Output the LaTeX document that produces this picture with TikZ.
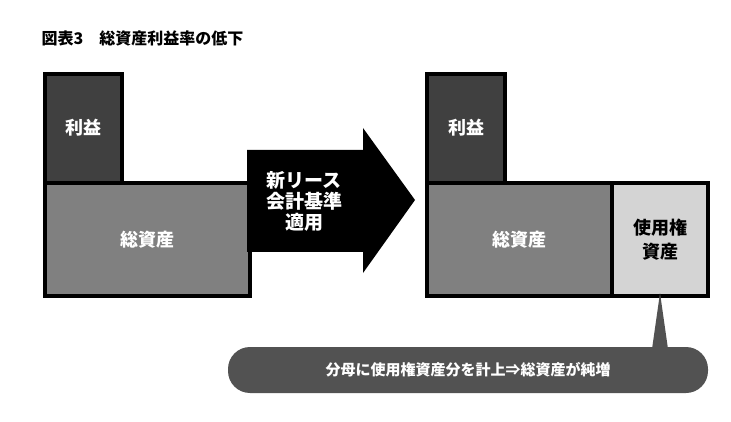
\documentclass[tikz,border=0pt]{standalone}
\usepackage{fontspec}
\newfontfamily\cjk{Noto Sans CJK JP}
\begin{document}
\begin{tikzpicture}[x=1pt,y=-1pt,
  box/.style={draw=black,line width=4pt},
  lbl/.style={font=\cjk\bfseries\fontsize{18}{21}\selectfont,text=white,align=center}]
\useasboundingbox (0,0) rectangle (731,422);
\node[anchor=west,font=\cjk\bfseries\fontsize{16}{19}\selectfont] (title) at (38,38) {図表3　総資産利益率の低下};
% left
\fill[fill=black!75,box] (45,74) rectangle (122,183);
\fill[fill=black!50,box] (45,183) rectangle (250,296);
\node[lbl] (l1) at (83,128) {利益};
\node[lbl] (l2) at (147,240) {総資産};
% arrow
\fill[black] (247,150) -- (363,150) -- (363,128) -- (415,200) -- (363,273) -- (363,252) -- (247,252) -- cycle;
\node[lbl,font=\cjk\bfseries\fontsize{19}{21}\selectfont] (ar) at (304,201) {新リース\\会計基準\\適用};
% right
\fill[fill=black!75,box] (427,74) rectangle (505,183);
\fill[fill=black!50,box] (427,183) rectangle (612,296);
\fill[fill=black!17,box] (612,183) rectangle (708,296);
\node[lbl] (r1) at (466,128) {利益};
\node[lbl] (r2) at (519,240) {総資産};
\node[lbl,text=black,font=\cjk\bfseries\fontsize{18}{24}\selectfont] (r3) at (660,240) {使用権\\資産};
% callout
\fill[black!68,rounded corners=22pt] (228,347) rectangle (708,393);
\fill[black!68] (652,349) -- (660,293) -- (668,349) -- cycle;
\node[lbl,font=\cjk\bfseries\fontsize{15}{18}\selectfont] (c) at (468,370) {分母に使用権資産分を計上⇒総資産が純増};
\end{tikzpicture}
\end{document}
